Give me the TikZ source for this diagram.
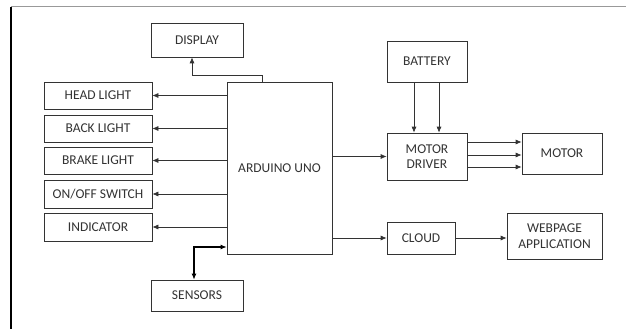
\documentclass[tikz,border=0pt]{standalone}
\usepackage{fontspec}
\setmainfont{Carlito}
\usetikzlibrary{arrows.meta}
\definecolor{ink}{HTML}{333333}
\tikzset{
  blk/.style={draw=ink, line width=0.7pt, rectangle, inner sep=0pt, align=center,
    font=\fontsize{13.5}{15.5}\selectfont, text=ink},
  arr/.style={draw=ink, line width=0.7pt, -{Latex[length=6pt,width=5pt]}},
}
\begin{document}
\begin{tikzpicture}[x=1pt,y=-1pt]
\useasboundingbox (0,0) rectangle (626,329);
\fill[white] (0,0) rectangle (626,329);
% frame
\draw[gray!80, line width=1pt] (11,7) -- (626,7);
\draw[black, line width=1.4pt] (11,7) -- (11,329);
% blocks
\node[blk, minimum width=92pt, minimum height=34pt] (display) at (197,40) {DISPLAY};
\node[blk, minimum width=108pt, minimum height=27pt] (head) at (98,95.5) {HEAD LIGHT};
\node[blk, minimum width=108pt, minimum height=27pt] (back) at (98,128.5) {BACK LIGHT};
\node[blk, minimum width=108pt, minimum height=27pt] (brake) at (98,160.5) {BRAKE LIGHT};
\node[blk, minimum width=108pt, minimum height=28pt] (onoff) at (98,194) {ON/OFF SWITCH};
\node[blk, minimum width=108pt, minimum height=28pt] (ind) at (98,227) {INDICATOR};
\node[blk, minimum width=105pt, minimum height=172pt] (ard) at (279.5,168) {ARDUINO UNO};
\node[blk, minimum width=92pt, minimum height=31pt] (sens) at (197,295.5) {SENSORS};
\node[blk, minimum width=80pt, minimum height=41pt] (bat) at (427,61.5) {BATTERY};
\node[blk, minimum width=80pt, minimum height=47pt] (drv) at (427,156.5) {MOTOR\\DRIVER};
\node[blk, minimum width=80pt, minimum height=41pt] (mot) at (562,153.5) {MOTOR};
\node[blk, minimum width=68pt, minimum height=32pt] (cloud) at (421,238) {CLOUD};
\node[blk, minimum width=95pt, minimum height=46pt] (web) at (554.5,236) {WEBPAGE\\APPLICATION};
% connectors
\coordinate (dk) at (262,75);
\draw[arr] (ard.north -| dk) -- (dk) -| ([xshift=-5pt]display.south);
\draw[arr] (ard.west |- head.east) -- (head.east);
\draw[arr] (ard.west |- back.east) -- (back.east);
\draw[arr] (ard.west |- brake.east) -- (brake.east);
\draw[arr] (ard.west |- onoff.east) -- (onoff.east);
\draw[arr] (ard.west |- ind.east) -- (ind.east);
\coordinate (sk) at (194,247);
\draw[draw=black, line width=1.1pt, {Latex[length=6pt,width=5pt]}-{Latex[length=6pt,width=5pt]}] (sk -| ard.west) -- (sk) -- (sk |- sens.north);
\draw[arr] ([xshift=-13pt]bat.south) -- ([xshift=-13pt]drv.north);
\draw[arr] ([xshift=12pt]bat.south) -- ([xshift=12pt]drv.north);
\draw[arr] (ard.east |- drv.west) -- (drv.west);
\draw[arr] (drv.east |- 0,142) -- (mot.west |- 0,142);
\draw[arr] (drv.east |- 0,155) -- (mot.west |- 0,155);
\draw[arr] (drv.east |- 0,167) -- (mot.west |- 0,167);
\draw[arr] (ard.east |- cloud.west) -- (cloud.west);
\draw[arr] (cloud.east) -- (web.west |- cloud.east);
\end{tikzpicture}
\end{document}
